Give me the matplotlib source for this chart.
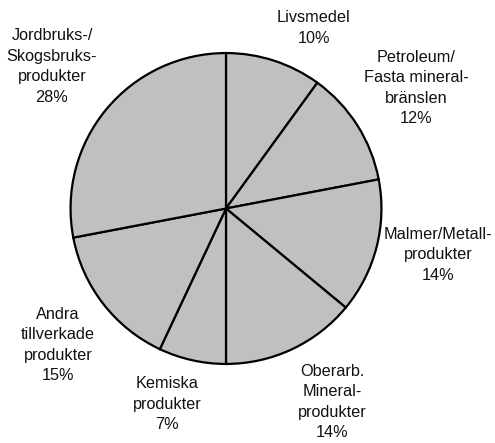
import matplotlib
matplotlib.use("Agg")
import matplotlib.pyplot as plt

categories = ["Livsmedel", "Petroleum/\nFasta mineral-\nbränslen", "Malmer/Metall-\nprodukter",
              "Oberarb.\nMineral-\nprodukter", "Kemiska\nprodukter", "Andra\ntillverkade\nprodukter",
              "Jordbruks-/\nSkogsbruks-\nprodukter"]
values = [10, 12, 14, 14, 7, 15, 28]

W, H = 495, 443
fig = plt.figure(figsize=(W / 100, H / 100), dpi=100)
cx, cy, r = 226, 208.5, 157
ax = fig.add_axes([(cx - r) / W, (H - cy - r) / H, 2 * r / W, 2 * r / H])
ax.pie(values, startangle=90, counterclock=False, radius=1,
       colors=["#c0c0c0"] * len(values),
       wedgeprops=dict(edgecolor="black", linewidth=1.6))
ax.set_xlim(-1.01, 1.01)
ax.set_ylim(-1.01, 1.01)
ax.set_aspect("equal")
ax.axis("off")

# label centres in pixel coordinates (x, y from top)
label_pos = [(314, 28), (416, 88), (438, 255), (332, 402), (167, 404), (58, 345), (52, 66.5)]
for lab, v, (px, py) in zip(categories, values, label_pos):
    fig.text(px / W, 1 - py / H, f"{lab}\n{v}%", ha="center", va="center",
             fontsize=11.7, family=["Liberation Sans", "DejaVu Sans"], linespacing=1.45,
             color="#111111")

fig.savefig("out.png", dpi=100)
